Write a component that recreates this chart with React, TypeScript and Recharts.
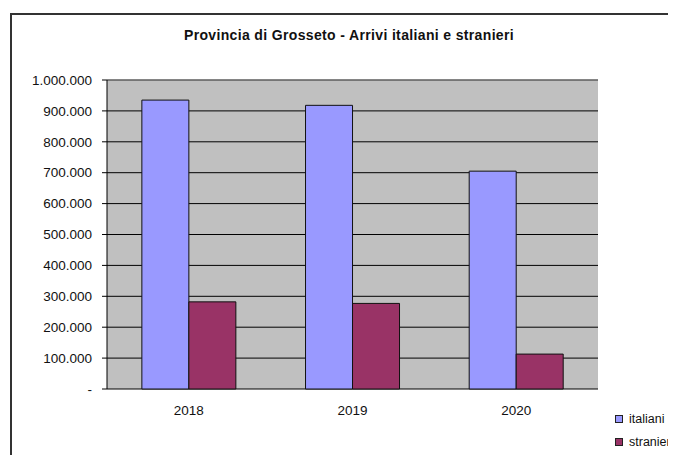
import React from "react";
import {
  BarChart,
  Bar,
  XAxis,
  YAxis,
  CartesianGrid,
  Legend,
  ReferenceLine,
} from "recharts";

const years = ["2018", "2019", "2020"];
const italiani = [935000, 918000, 705000];
const stranieri = [282000, 277000, 113000];
const yTicks = [0, 100000, 200000, 300000, 400000, 500000, 600000, 700000, 800000, 900000, 1000000];
const boundaryTicks = [0, 1, 2, 3];

const data = years.map((y, i) => ({ year: y, italiani: italiani[i], stranieri: stranieri[i] }));

const seriesNames = ["italiani", "stranieri"];
const seriesColors = ["#9999FF", "#993366"];

const FONT = "'Liberation Sans', Arial, sans-serif";

const fmt = (v: number) => (v === 0 ? "-" : v.toString().replace(/\B(?=(\d{3})+(?!\d))/g, "."));

const LegendContent = () => (
  <div style={{ fontFamily: FONT, fontSize: 12.5, color: "#111" }}>
    {seriesNames.map((n, i) => (
      <div key={n} style={{ display: "flex", alignItems: "center", height: 23, whiteSpace: "nowrap" }}>
        <span
          style={{
            display: "inline-block",
            width: 6,
            height: 6,
            background: seriesColors[i],
            border: "1px solid #222",
            marginRight: 6,
          }}
        />
        <span>{n}</span>
      </div>
    ))}
  </div>
);

export default function App() {
  return (
    <div style={{ position: "relative", width: 668, height: 447, overflow: "hidden", background: "#fff" }}>
      <div
        style={{
          position: "absolute",
          left: 2,
          top: 5,
          width: 720,
          height: 520,
          border: "2px solid #333",
          boxSizing: "border-box",
        }}
      />
      <div
        style={{
          position: "absolute",
          left: 0,
          top: 19,
          width: 682,
          textAlign: "center",
          fontFamily: FONT,
          fontWeight: "bold",
          fontSize: 14,
          letterSpacing: 0.35,
          lineHeight: "16px",
          color: "#111",
        }}
      >
        Provincia di Grosseto - Arrivi italiani e stranieri
      </div>
      <div style={{ position: "absolute", left: 0, top: 0 }}>
        <BarChart
          width={668}
          height={447}
          data={data}
          margin={{ top: 72, right: 78, bottom: 36, left: 0 }}
          barCategoryGap="21.3%"
          barGap={0}
        >
          <CartesianGrid
            yAxisId="l"
            xAxisId="c"
            vertical={false}
            stroke="#000"
            strokeWidth={1}
            fill="#C0C0C0"
            fillOpacity={1}
            horizontalValues={yTicks}
          />
          <XAxis
            xAxisId="n"
            type="number"
            domain={[0, 3]}
            ticks={boundaryTicks}
            interval={0}
            tick={false}
            tickSize={5}
            height={0}
            stroke="#000"
            axisLine={{ stroke: "#000" }}
            tickLine={{ stroke: "#000" }}
          />
          <XAxis
            xAxisId="c"
            dataKey="year"
            axisLine={false}
            tickLine={false}
            tickSize={6}
            tickMargin={10}
            height={30}
            tick={{ fill: "#111", fontSize: 13.5, fontFamily: FONT }}
          />
          <YAxis
            yAxisId="l"
            domain={[0, 1000000]}
            ticks={yTicks}
            interval={0}
            tickFormatter={fmt}
            width={99}
            tickSize={5}
            tickMargin={10}
            axisLine={{ stroke: "#000" }}
            tickLine={{ stroke: "#000" }}
            tick={{ fill: "#111", fontSize: 13.5, fontFamily: FONT }}
          />
          <YAxis
            yAxisId="r"
            orientation="right"
            domain={[0, 1000000]}
            width={0}
            tick={false}
            tickLine={false}
            axisLine={{ stroke: "#8a8a8a" }}
          />
          <ReferenceLine yAxisId="l" xAxisId="c" y={1000000} stroke="#8a8a8a" />
          <Bar
            yAxisId="l"
            xAxisId="c"
            dataKey="italiani"
            name="italiani"
            fill={seriesColors[0]}
            stroke="#111"
            strokeWidth={1}
            isAnimationActive={false}
          />
          <Bar
            yAxisId="l"
            xAxisId="c"
            dataKey="stranieri"
            name="stranieri"
            fill={seriesColors[1]}
            stroke="#111"
            strokeWidth={1}
            isAnimationActive={false}
          />
          <Legend
            layout="vertical"
            align="center"
            verticalAlign="middle"
            content={<LegendContent />}
            wrapperStyle={{ left: 607, top: 399, width: 90, height: 46 }}
          />
        </BarChart>
      </div>
    </div>
  );
}
